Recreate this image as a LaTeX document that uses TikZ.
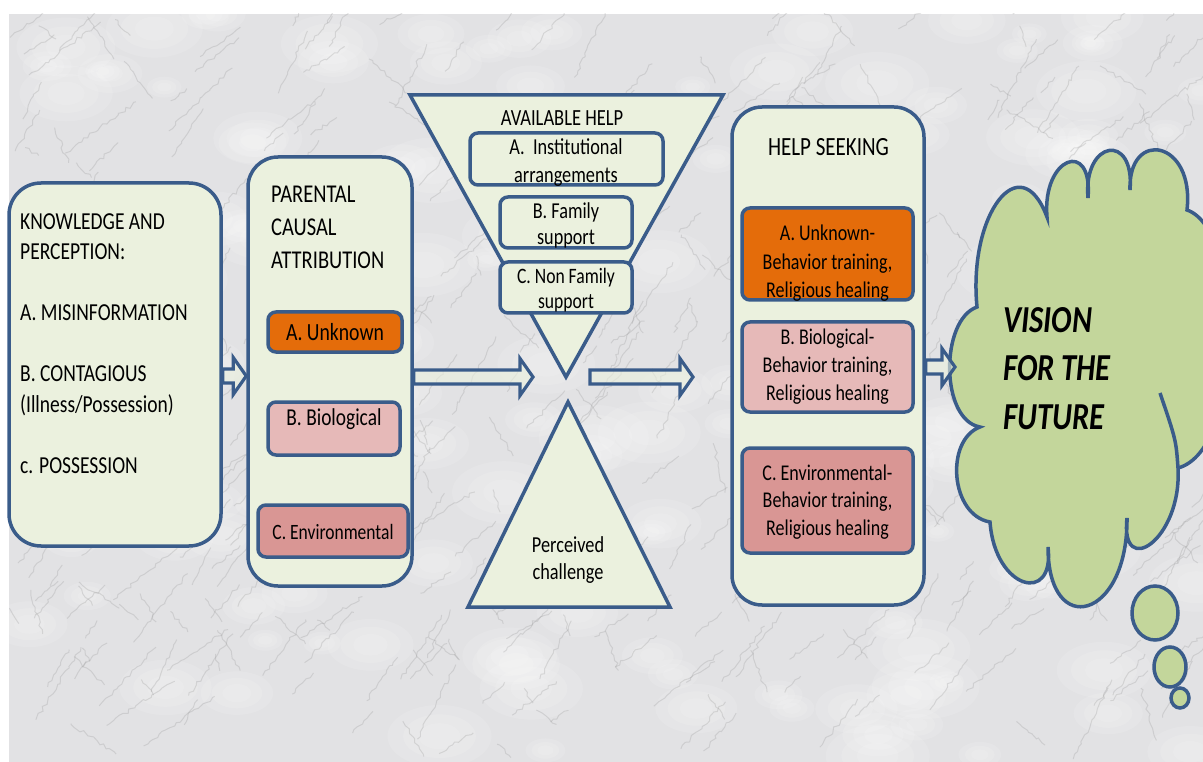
\documentclass[tikz,border=0pt]{standalone}
\usepackage{fontspec}
\setmainfont{Carlito}
\usetikzlibrary{calc,decorations.pathmorphing}
\definecolor{edge}{HTML}{3A5C8A}
\definecolor{panel}{HTML}{EBF1DE}
\definecolor{orng}{HTML}{E46C0A}
\definecolor{pinkA}{HTML}{E6B9B8}
\definecolor{pinkB}{HTML}{D99694}
\definecolor{cloudg}{HTML}{C3D69B}
\definecolor{marble}{HTML}{E2E2E4}
\newcommand{\vs}[1]{\scalebox{1}[1.25]{#1}}
\newcommand{\fs}[2]{\fontsize{#1}{#2}\selectfont}
\newcommand{\blockarrow}[2]{%
  \draw[harrow] let \p1=(#1), \p2=(#2) in
   (\x1,{\y1-7pt}) -- ({\x2-13pt},{\y1-7pt}) -- ({\x2-13pt},{\y1-18.5pt}) --
   (\x2,\y1) -- ({\x2-13pt},{\y1+18.5pt}) -- ({\x2-13pt},{\y1+7pt}) --
   (\x1,{\y1+7pt}) -- cycle;}
\begin{document}
\begin{tikzpicture}[x=1pt,y=-1pt,
  panelbox/.style={draw=edge, line width=3.5pt, fill=panel, inner sep=0pt},
  itembox/.style={draw=edge, line width=3.5pt, rounded corners=8pt, inner sep=0pt},
  txt/.style={inner sep=0pt, text=black},
  harrow/.style={draw=edge, line width=3.2pt, fill=panel, fill opacity=0.6, line join=miter},
  cloudshape/.style={draw=edge, line width=3.5pt, fill=cloudg},
  vein/.style={gray!80, line width=1pt, opacity=0.28, decorate,
    decoration={random steps, segment length=4pt, amplitude=1.8pt}},
]
\useasboundingbox (0,0) rectangle (1203,762);
\fill[white] (0,0) rectangle (1203,762);
% marble background
\begin{scope}
\clip (9,14) rectangle (1203,762);
\fill[marble] (9,14) rectangle (1203,762);
\pgfmathsetseed{4242}
\foreach \i in {1,...,160}{
  \pgfmathsetmacro{\vx}{10+rnd*1193}
  \pgfmathsetmacro{\vy}{14+rnd*748}
  \pgfmathsetmacro{\rx}{15+rnd*40}
  \fill[white, opacity=0.12] (\vx,\vy) ellipse [x radius=\rx, y radius=0.6*\rx];
  \fill[white, opacity=0.12] (\vx,\vy) ellipse [x radius=0.7*\rx, y radius=0.42*\rx];
  \fill[white, opacity=0.12] (\vx,\vy) ellipse [x radius=0.4*\rx, y radius=0.25*\rx];
}
\foreach \i in {1,...,320}{
  \pgfmathsetmacro{\vx}{10+rnd*1193}
  \pgfmathsetmacro{\vy}{14+rnd*748}
  \pgfmathsetmacro{\vl}{20+rnd*70}
  \pgfmathsetmacro{\va}{30+rnd*35}
  \draw[vein] (\vx,\vy) -- ++({\vl*cos(\va)},{-\vl*sin(\va)});
}
\foreach \i in {1,...,140}{
  \pgfmathsetmacro{\vx}{10+rnd*1193}
  \pgfmathsetmacro{\vy}{14+rnd*748}
  \pgfmathsetmacro{\vl}{15+rnd*40}
  \pgfmathsetmacro{\va}{100+rnd*50}
  \draw[vein] (\vx,\vy) -- ++({\vl*cos(\va)},{-\vl*sin(\va)});
}
\end{scope}

% panel 1
\node[panelbox, rounded corners=32pt, minimum width=212, minimum height=363] (know) at (115,364.5) {};
\node[txt, anchor=north west] (knowt) at (20,207.5) {\vs{\fs{19.5}{24.4}\begin{tabular}{@{}l@{}}KNOWLEDGE AND\\PERCEPTION:\\ \\A. MISINFORMATION\\ \\B. CONTAGIOUS\\(Illness/Possession)\\ \\c. POSSESSION\end{tabular}}};

% panel 2
\node[panelbox, rounded corners=30pt, minimum width=164, minimum height=429] (par) at (330,371.5) {};
\node[txt, anchor=north west] (part) at (271,179) {\vs{\fs{20.5}{26.4}\begin{tabular}{@{}l@{}}PARENTAL\\CAUSAL\\ATTRIBUTION\end{tabular}}};
\node[itembox, fill=orng, minimum width=134, minimum height=40] (pa) at (335,332) {};
\node[txt, anchor=base] (pat) at (335,341) {\vs{\fs{19.7}{24}A. Unknown}};
\node[itembox, fill=pinkA, minimum width=132, minimum height=53] (pb) at (334,428.5) {};
\node[txt, anchor=base] (pbt) at (334,425) {\vs{\fs{19.4}{24}B. Biological}};
\node[itembox, fill=pinkB, minimum width=150, minimum height=52] (pc) at (333,531) {};
\node[txt, anchor=base] (pct) at (333,539.5) {\vs{\fs{17.5}{22}C. Environmental}};

% funnel
\coordinate (ftl) at (410,95);
\coordinate (ftr) at (723,95);
\coordinate (fap) at (566,377);
\draw[edge, line width=3.5pt, fill=panel, line join=miter] (ftl) -- (ftr) -- (fap) -- cycle;
\node[txt, anchor=base] (avail) at (562,125.7) {\vs{\fs{18.5}{22}AVAILABLE HELP}};
\node[itembox, fill=panel, minimum width=193, minimum height=52] (fa) at (566.5,159) {};
\node[txt] (fat) at (566,162.5) {\vs{\fs{18.3}{22.4}\begin{tabular}{@{}c@{}}A.\ \ Institutional\\arrangements\end{tabular}}};
\node[itembox, fill=panel, minimum width=132, minimum height=51] (fb) at (566,222.5) {};
\node[txt] (fbt) at (566,226.5) {\vs{\fs{18.2}{21}\begin{tabular}{@{}c@{}}B. Family\\support\end{tabular}}};
\node[itembox, fill=panel, minimum width=132, minimum height=51] (fc) at (566,287.5) {};
\node[txt] (fct) at (566,291) {\vs{\fs{17.6}{20.5}\begin{tabular}{@{}c@{}}C. Non Family\\support\end{tabular}}};

% lower triangle
\coordinate (tl) at (468,607);
\coordinate (tr) at (670,607);
\coordinate (tap) at (568,402);
\draw[edge, line width=3.5pt, fill=panel, line join=miter] (tl) -- (tr) -- (tap) -- cycle;
\node[txt] (chal) at (568,560.5) {\vs{\fs{18.3}{21.6}\begin{tabular}{@{}c@{}}Perceived\\challenge\end{tabular}}};

% help seeking
\node[panelbox, rounded corners=30pt, minimum width=192, minimum height=498] (hs) at (828,356) {};
\node[txt, anchor=base] (hst) at (828.5,155.5) {\vs{\fs{21}{25}HELP SEEKING}};
\node[itembox, fill=orng, minimum width=171, minimum height=92] (ha) at (827.5,254) {};
\node[txt] (hat) at (827.5,263.5) {\vs{\fs{18}{22.8}\begin{tabular}{@{}c@{}}A. Unknown-\\Behavior training,\\Religious healing\end{tabular}}};
\node[itembox, fill=pinkA, minimum width=171, minimum height=90] (hb) at (827.5,367) {};
\node[txt] (hbt) at (827.5,367) {\vs{\fs{18}{22.6}\begin{tabular}{@{}c@{}}B. Biological-\\Behavior training,\\Religious healing\end{tabular}}};
\node[itembox, fill=pinkB, minimum width=171, minimum height=105] (hc) at (827.5,500.5) {};
\node[txt] (hct) at (827.5,502) {\vs{\fs{18}{22}\begin{tabular}{@{}c@{}}C. Environmental-\\Behavior training,\\Religious healing\end{tabular}}};

% cloud
\draw[cloudshape] (977,307) .. controls (968,215) and (1020,145) .. (1047,217)
 .. controls (1042,157) and (1093,138) .. (1088,198)
 .. controls (1083,140) and (1135,132) .. (1130,190)
 .. controls (1128,128) and (1195,140) .. (1187,210)
 .. controls (1245,230) and (1245,450) .. (1178,468)
 .. controls (1182,540) and (1120,580) .. (1127,518)
 .. controls (1128,620) and (1048,640) .. (1048,547)
 .. controls (1055,605) and (995,590) .. (990,522)
 .. controls (950,515) and (945,440) .. (980,427)
 .. controls (940,420) and (940,320) .. (977,307) -- cycle;
\draw[edge, line width=3.5pt] (1178,468) .. controls (1176,440) .. (1160,393);
\coordinate (cloudl) at (955,367);
\node[txt, anchor=north west] (vis) at (1003,298.3) {\vs{\fs{30.5}{38.8}\bfseries\itshape\begin{tabular}{@{}l@{}}VISION\\FOR THE\\FUTURE\end{tabular}}};
\draw[cloudshape] (1155,613) ellipse [x radius=23, y radius=27];
\draw[cloudshape] (1170,667) ellipse [x radius=16, y radius=20];
\draw[cloudshape] (1180,698) ellipse [x radius=9, y radius=10];

% arrows
\coordinate (a2e) at (533,377);
\coordinate (a3s) at (590,377);
\coordinate (a3e) at (693,377);
\blockarrow{know.east |- 0,376}{par.west |- 0,376}
\blockarrow{par.east |- 0,377}{a2e}
\blockarrow{a3s}{a3e}
\blockarrow{hs.east |- 0,367}{cloudl}
\end{tikzpicture}
\end{document}
